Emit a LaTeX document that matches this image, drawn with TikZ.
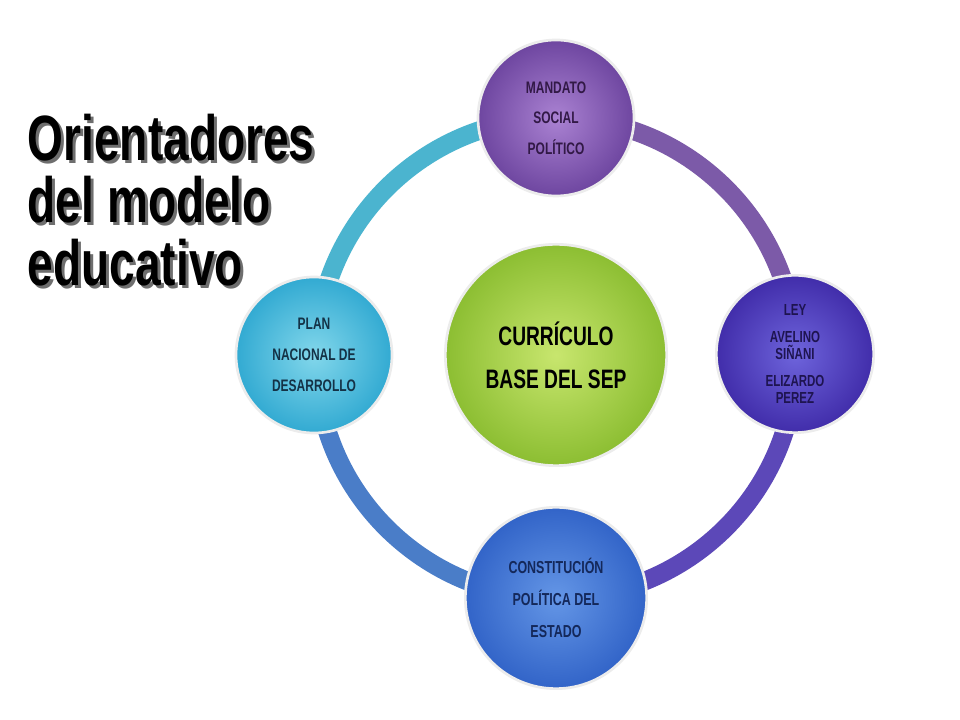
\documentclass[tikz,border=0pt]{standalone}
\usepackage{fontspec}
\setmainfont{Liberation Sans}
\newfontfamily\condf[FakeStretch=0.72]{Liberation Sans}
\begin{document}
\begin{tikzpicture}[x=0.75pt,y=0.75pt,
  ball/.style={circle,minimum size=#1,inner sep=0pt,draw=white!85!gray,line width=2pt,align=center,font=\condf\bfseries\fontsize{12.5}{23}\selectfont},
  arcband/.style={line width=14pt}]
\useasboundingbox (0,0) rectangle (960,720);
\fill[white] (0,0) rectangle (960,720);
\coordinate (c) at (556,362);
\draw[arcband,color={rgb,255:red,75;green,180;blue,207}] (c) ++(180:240) arc[start angle=180,end angle=90,radius=240];
\draw[arcband,color={rgb,255:red,124;green,90;blue,168}] (c) ++(90:240) arc[start angle=90,end angle=0,radius=240];
\draw[arcband,color={rgb,255:red,92;green,72;blue,184}] (c) ++(0:240) arc[start angle=0,end angle=-90,radius=240];
\draw[arcband,color={rgb,255:red,74;green,125;blue,200}] (c) ++(-90:240) arc[start angle=-90,end angle=-180,radius=240];
\node[ball=117pt,inner color={rgb,255:red,170;green,130;blue,210},outer color={rgb,255:red,110;green,70;blue,160},text={rgb,255:red,50;green,25;blue,70}] (top) at (556,602) {MANDATO\\SOCIAL\\POLÍTICO};
\node[ball=118pt,inner color={rgb,255:red,110;green,100;blue,220},outer color={rgb,255:red,65;green,45;blue,170},text={rgb,255:red,30;green,20;blue,80},font=\condf\bfseries\fontsize{12}{13}\selectfont] (right) at (795,366) {LEY\\[7pt]AVELINO\\SIÑANI\\[7pt]ELIZARDO\\PEREZ};
\node[ball=136pt,inner color={rgb,255:red,100;green,150;blue,230},outer color={rgb,255:red,50;green,100;blue,200},text={rgb,255:red,20;green,40;blue,90},font=\condf\bfseries\fontsize{13}{24}\selectfont] (bottom) at (556,122) {CONSTITUCIÓN\\POLÍTICA DEL\\ESTADO};
\node[ball=117pt,inner color={rgb,255:red,130;green,215;blue,235},outer color={rgb,255:red,50;green,170;blue,210},text={rgb,255:red,20;green,50;blue,70}] (left) at (314,365) {PLAN\\NACIONAL DE\\DESARROLLO};
\node[ball=166pt,inner color={rgb,255:red,200;green,230;blue,110},outer color={rgb,255:red,140;green,190;blue,50},font=\condf\bfseries\fontsize{20}{32}\selectfont] (ctr) at (556,365) {CURRÍCULO\\BASE DEL SEP};
\node[anchor=north west,align=left,font=\condf\bfseries\fontsize{48}{47}\selectfont,text={rgb,255:red,110;green,110;blue,110}] at (26,608) {Orientadores\\del modelo\\educativo};
\node[anchor=north west,align=left,font=\condf\bfseries\fontsize{48}{47}\selectfont] (title) at (23,611) {Orientadores\\del modelo\\educativo};
\end{tikzpicture}
\end{document}
